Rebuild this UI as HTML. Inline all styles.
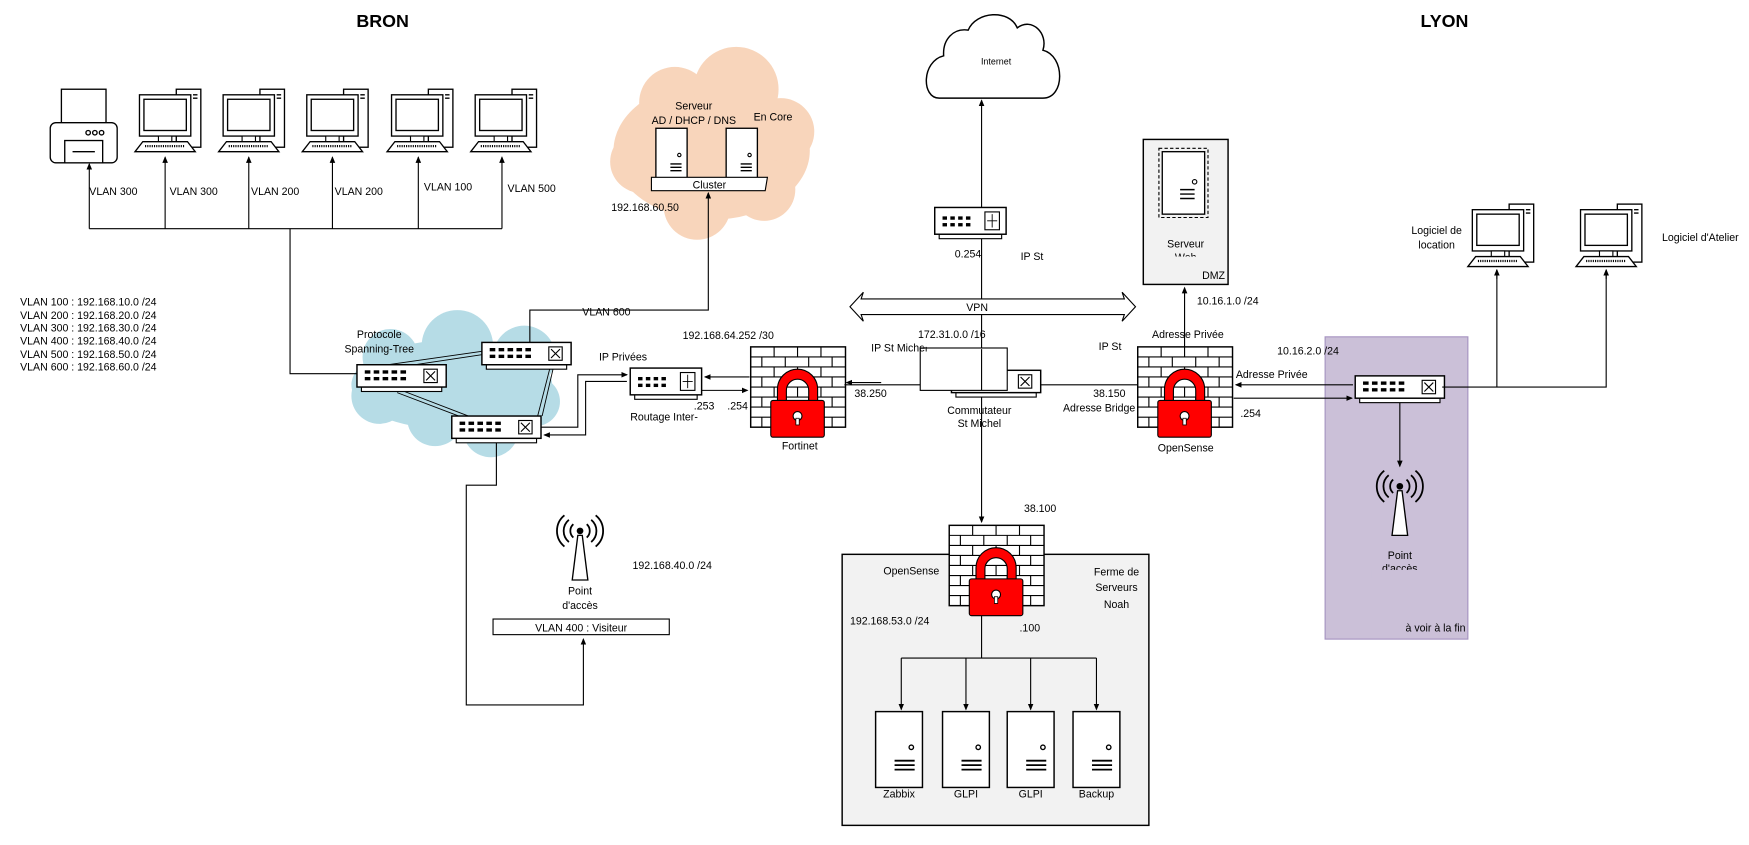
<!DOCTYPE html>
<html><head><meta charset="utf-8"><style>
html,body{margin:0;padding:0;background:#fff;}
svg{display:block;}
text{font-family:"Liberation Sans",sans-serif;font-size:9.5px;fill:#000;}
.c{text-anchor:middle;}
.t{font-size:16px;font-weight:bold;}
</style></head><body>
<svg width="1749" height="845" viewBox="0 0 1568 757.6" xmlns="http://www.w3.org/2000/svg">
<defs>
<marker id="ar" markerWidth="6" markerHeight="6" refX="5" refY="3" orient="auto" markerUnits="userSpaceOnUse"><path d="M0,0.5 L6,3 L0,5.5z" fill="#000"/></marker>
<g id="ports5">
 <g fill="#000"><rect x="0" y="0" width="5" height="3"/><rect x="8" y="0" width="5" height="3"/><rect x="16" y="0" width="5" height="3"/><rect x="24" y="0" width="5" height="3"/><rect x="32" y="0" width="5" height="3"/>
 <rect x="0" y="6" width="5" height="3"/><rect x="8" y="6" width="5" height="3"/><rect x="16" y="6" width="5" height="3"/><rect x="24" y="6" width="5" height="3"/><rect x="32" y="6" width="5" height="3"/></g>
</g>
<g id="sw">
 <rect x="4" y="20" width="72" height="4" fill="#fff" stroke="#000" stroke-width="1"/>
 <rect x="0" y="0" width="80" height="20" fill="#fff" stroke="#000" stroke-width="1.3"/>
 <use href="#ports5" x="7" y="5"/>
 <rect x="60" y="4" width="12" height="12" fill="#fff" stroke="#000"/>
 <path d="M62,6 L70,14 M70,6 L62,14" stroke="#000" stroke-width="1"/>
</g>
<g id="rt">
 <rect x="4" y="24" width="56" height="4" fill="#fff" stroke="#000"/>
 <rect x="0" y="0" width="64" height="24" fill="#fff" stroke="#000" stroke-width="1.3"/>
 <g fill="#000"><rect x="7" y="8" width="4" height="3"/><rect x="14" y="8" width="4" height="3"/><rect x="21" y="8" width="4" height="3"/><rect x="28" y="8" width="4" height="3"/>
 <rect x="7" y="14" width="4" height="3"/><rect x="14" y="14" width="4" height="3"/><rect x="21" y="14" width="4" height="3"/><rect x="28" y="14" width="4" height="3"/></g>
 <rect x="45" y="4" width="13" height="16" fill="#fff" stroke="#000"/>
 <path d="M51.5,6 V18 M47,12 H56" stroke="#000" stroke-width="0.8"/>
</g>
<g id="fw">
 <rect x="0" y="0" width="85" height="72" fill="#fff" stroke="#000" stroke-width="1.3"/>
 <g stroke="#000" stroke-width="1" fill="none">
  <path d="M0,9 H85 M0,18 H85 M0,27 H85 M0,36 H85 M0,45 H85 M0,54 H85 M0,63 H85"/>
  <path d="M21,0V9 M42,0V9 M63,0V9 M10,9V18 M31,9V18 M52,9V18 M73,9V18 M21,18V27 M42,18V27 M63,18V27 M10,27V36 M31,27V36 M52,27V36 M73,27V36 M21,36V45 M42,36V45 M63,36V45 M10,45V54 M31,45V54 M52,45V54 M73,45V54 M21,54V63 M42,54V63 M63,54V63 M10,63V72 M31,63V72 M52,63V72 M73,63V72"/>
 </g>
 <path d="M24,50 V38 A18,18 0 0 1 60,38 V50 H52 V39 A10,10 0 0 0 32,39 V50Z" fill="#f00" stroke="#000" stroke-width="1"/>
 <rect x="18" y="48" width="48" height="33" rx="2" fill="#f00" stroke="#000" stroke-width="1"/>
 <circle cx="42" cy="62" r="4" fill="#fff" stroke="#000"/>
 <rect x="40.5" y="64" width="3" height="6" fill="#fff" stroke="#000" stroke-width="0.7"/>
</g>
<g id="pc">
 <rect x="37" y="0" width="22" height="52" fill="#fff" stroke="#000" stroke-width="1.2"/>
 <path d="M52,5 H56 M52,8 H56" stroke="#000" stroke-width="1.2"/>
 <rect x="4" y="5" width="46" height="37" fill="#fff" stroke="#000" stroke-width="1.2"/>
 <rect x="8" y="9" width="38" height="28" fill="#fff" stroke="#000" stroke-width="1.2"/>
 <rect x="21" y="42" width="12" height="5" fill="#fff" stroke="#000"/>
 <path d="M0,56 L7,47 H47 L54,56Z" fill="#fff" stroke="#000" stroke-width="1.2"/>
 <path d="M9,51 H45" stroke="#000" stroke-width="2" stroke-dasharray="1,1"/>
</g>
<g id="srv">
 <rect x="0" y="0" width="28" height="46" fill="#fff" stroke="#000" stroke-width="1.2"/>
 <circle cx="21" cy="24" r="1.5" fill="none" stroke="#000"/>
 <path d="M13,32 H23 M13,35 H23 M13,38 H23" stroke="#000" stroke-width="1.2"/>
</g>
<g id="srvb">
 <rect x="0" y="0" width="42" height="68" fill="#fff" stroke="#000" stroke-width="1.3"/>
 <circle cx="32" cy="32" r="2" fill="none" stroke="#000" stroke-width="1.2"/>
 <path d="M17,44 H35 M17,48 H35 M17,52 H35" stroke="#000" stroke-width="1.6"/>
</g>
<g id="ant">
 <path d="M17,20 L12,60 H26 L21,20Z" fill="#fff" stroke="#000" stroke-width="1.2"/>
 <circle cx="19" cy="16" r="3" fill="#000"/>
 <g fill="none" stroke="#000" stroke-width="1.6">
  <path d="M13,10 A8,8 0 0 0 13,22 M25,10 A8,8 0 0 1 25,22"/>
  <path d="M9,6 A13,13 0 0 0 9,26 M29,6 A13,13 0 0 1 29,26"/>
  <path d="M5,2 A18,18 0 0 0 5,30 M33,2 A18,18 0 0 1 33,30"/>
 </g>
</g>
</defs>

<text x="343" y="24" class="t c">BRON</text>
<text x="1295" y="24" class="t c">LYON</text>

<!-- peach cloud -->
<g fill="#f8d5bb">
 <ellipse cx="638" cy="135" rx="88" ry="62"/><circle cx="605" cy="92" r="32"/><circle cx="660" cy="80" r="38"/><circle cx="700" cy="118" r="30"/>
 <circle cx="575" cy="145" r="28"/><circle cx="625" cy="185" r="30"/><circle cx="685" cy="170" r="28"/>
</g>
<!-- blue cloud -->
<g fill="#b6dce6">
 <ellipse cx="405" cy="345" rx="90" ry="40"/><circle cx="350" cy="320" r="25"/><circle cx="410" cy="310" r="32"/><circle cx="470" cy="320" r="28"/>
 <circle cx="340" cy="355" r="25"/><circle cx="440" cy="385" r="25"/><circle cx="480" cy="360" r="22"/><circle cx="390" cy="375" r="25"/>
</g>

<rect x="1188" y="302" width="128" height="271" fill="#cbc0d8" stroke="#a492c0" stroke-width="1"/>
<text x="1287" y="566" class="c">à voir à la fin</text>

<!-- DMZ -->
<rect x="1025" y="125" width="76" height="130" fill="#f2f2f2" stroke="#000" stroke-width="1.3"/>
<rect x="1039" y="133" width="44" height="62" fill="none" stroke="#000" stroke-dasharray="3,2"/>
<rect x="1042" y="136" width="38" height="56" fill="#fff" stroke="#000" stroke-width="1.2"/>
<circle cx="1071" cy="163" r="2" fill="none" stroke="#000"/>
<path d="M1058,170 H1071 M1058,174 H1071 M1058,178 H1071" stroke="#000" stroke-width="1.3"/>
<text x="1063" y="222" class="c">Serveur</text>
<text x="1063" y="234" class="c">Web</text>
<rect x="1030" y="230" width="66" height="8" fill="#f2f2f2"/>
<text x="1088" y="250" class="c">DMZ</text>

<rect x="755" y="497" width="275" height="243" fill="#f2f2f2" stroke="#000" stroke-width="1.3"/>

<path d="M842,88 C826,88 826,55 846,50 C845,35 855,25 868,27 C875,10 905,8 912,25 C925,15 940,30 935,45 C955,50 955,88 935,88Z" fill="#fff" stroke="#000" stroke-width="1.3"/>
<text x="893" y="58" class="c" style="font-size:8px">Internet</text>

<g stroke="#000" stroke-width="1" fill="none" marker-end="url(#ar)">
 <path d="M80,205 V147"/><path d="M148,205 V141"/><path d="M223,205 V141"/><path d="M298,205 V141"/><path d="M375,205 V141"/><path d="M450,205 V141"/>
</g>
<path d="M80,205 H450 M260,205 V335 H320" stroke="#000" fill="none"/>
<text x="80" y="175">VLAN 300</text><text x="152" y="175">VLAN 300</text><text x="225" y="175">VLAN 200</text><text x="300" y="175">VLAN 200</text><text x="380" y="171">VLAN 100</text><text x="455" y="172">VLAN 500</text>

<g transform="translate(45,80)" stroke="#000" stroke-width="1.2" fill="#fff">
 <rect x="10" y="0" width="40" height="30"/>
 <rect x="0" y="30" width="60" height="36" rx="5"/>
 <rect x="13" y="46" width="34" height="20"/>
 <path d="M20,56 H40"/>
 <circle cx="34" cy="39" r="2"/><circle cx="40" cy="39" r="2"/><circle cx="46" cy="39" r="2"/>
</g>
<use href="#pc" x="121" y="80"/><use href="#pc" x="196" y="80"/><use href="#pc" x="271" y="80"/><use href="#pc" x="347" y="80"/><use href="#pc" x="422" y="80"/>

<text x="18" y="274">VLAN 100 : 192.168.10.0 /24</text>
<text x="18" y="286">VLAN 200 : 192.168.20.0 /24</text>
<text x="18" y="297">VLAN 300 : 192.168.30.0 /24</text>
<text x="18" y="309">VLAN 400 : 192.168.40.0 /24</text>
<text x="18" y="321">VLAN 500 : 192.168.50.0 /24</text>
<text x="18" y="332">VLAN 600 : 192.168.60.0 /24</text>

<use href="#srv" x="588" y="115"/><use href="#srv" x="651" y="115"/>
<path d="M584,159 H688 L686,171 H584Z" fill="#fff" stroke="#000"/>
<text x="636" y="169" class="c">Cluster</text>
<text x="622" y="98" class="c">Serveur</text>
<text x="622" y="111" class="c">AD / DHCP / DNS</text>
<text x="693" y="108" class="c">En Core</text>
<text x="548" y="189">192.168.60.50</text>
<path d="M475,307 V278 H635 V173" stroke="#000" fill="none" marker-end="url(#ar)"/>
<text x="522" y="283">VLAN 600</text>
<text x="340" y="303" class="c">Protocole</text>
<text x="340" y="316" class="c">Spanning-Tree</text>

<g stroke="#000" stroke-width="0.8" fill="none">
 <path d="M348,327 L432,315 M352,330 L432,318"/>
 <path d="M360,350 L420,373 M356,352 L414,374"/>
 <path d="M493,330 L482,373 M496,330 L486,373"/>
</g>
<use href="#sw" x="320" y="327"/><use href="#sw" x="432" y="307"/><use href="#sw" x="405" y="373"/>

<path d="M485,383 H518 V336 H562" stroke="#000" fill="none" marker-end="url(#ar)"/>
<path d="M562,342 H525 V390 H488" stroke="#000" fill="none" marker-end="url(#ar)"/>
<use href="#rt" x="565" y="330"/>
<text x="537" y="323">IP Privées</text>
<text x="565" y="377">Routage Inter-</text>
<text x="622" y="367">.253</text><text x="652" y="367">.254</text>
<text x="612" y="304">192.168.64.252 /30</text>
<path d="M672,338 H632" stroke="#000" marker-end="url(#ar)"/>
<path d="M629,350 H670" stroke="#000" marker-end="url(#ar)"/>

<use href="#fw" x="673" y="311"/>
<text x="717" y="403" class="c">Fortinet</text>
<text x="766" y="356">38.250</text>
<path d="M790,343 H759" stroke="#000" marker-end="url(#ar)"/>

<path d="M445,397 V435 H418 V632 H523 V573" stroke="#000" fill="none" marker-end="url(#ar)"/>
<use href="#ant" x="501" y="460"/>
<text x="520" y="533" class="c">Point</text>
<text x="520" y="546" class="c">d'accès</text>
<rect x="442" y="555" width="158" height="14" fill="#fff" stroke="#000"/>
<text x="521" y="566" class="c">VLAN 400 : Visiteur</text>
<text x="567" y="510">192.168.40.0 /24</text>

<path d="M880,188 V90" stroke="#000" marker-end="url(#ar)"/>
<path d="M880,213 V468" stroke="#000" marker-end="url(#ar)"/>
<use href="#rt" x="838" y="186"/>
<text x="856" y="231">0.254</text><text x="915" y="233">IP St</text>

<path d="M772,268 H1008 L1006,262 L1018,275 L1006,288 L1008,282 H772 L774,288 L762,275 L774,262Z" fill="#fff" stroke="#000"/>
<text x="876" y="279" class="c">VPN</text>

<path d="M757,345 H1033" stroke="#000" marker-end="url(#ar)"/>
<use href="#sw" x="853" y="332"/>
<rect x="825" y="312" width="78" height="38" fill="#fff" stroke="#000"/>
<text x="823" y="303">172.31.0.0 /16</text>
<text x="781" y="315">IP St Michel</text>
<rect x="828" y="308" width="30" height="3" fill="#fff"/>
<text x="878" y="371" class="c">Commutateur</text>
<text x="878" y="383" class="c">St Michel</text>
<path d="M880,313 V350" stroke="#000"/>

<use href="#fw" x="1020" y="311"/>
<path d="M1062,311 V258" stroke="#000" marker-end="url(#ar)"/>
<text x="1073" y="273">10.16.1.0 /24</text>
<text x="1065" y="303" class="c">Adresse Privée</text>
<text x="985" y="314">IP St</text>
<text x="980" y="356">38.150</text>
<text x="953" y="369">Adresse Bridge</text>
<text x="1063" y="405" class="c">OpenSense</text>
<text x="1145" y="318">10.16.2.0 /24</text>
<text x="1108" y="339">Adresse Privée</text>
<text x="1112" y="374">.254</text>
<path d="M1213,345 H1108" stroke="#000" marker-end="url(#ar)"/>
<path d="M1106,357 H1212" stroke="#000" marker-end="url(#ar)"/>
<use href="#sw" x="1215" y="337"/>
<path d="M1293,347 H1440 V242 M1342,347 V242" stroke="#000" fill="none"/>
<path d="M1342,250 V242" stroke="#000" marker-end="url(#ar)"/>
<path d="M1440,250 V242" stroke="#000" marker-end="url(#ar)"/>
<use href="#pc" x="1316" y="183"/><use href="#pc" x="1413" y="183"/>
<text x="1288" y="210" class="c">Logiciel de</text>
<text x="1288" y="223" class="c">location</text>
<text x="1490" y="216">Logiciel d'Atelier</text>
<path d="M1255,361 V418" stroke="#000" marker-end="url(#ar)"/>
<use href="#ant" x="1236" y="420"/>
<text x="1255" y="501" class="c">Point</text>
<text x="1255" y="513" class="c">d'accès</text>
<rect x="1230" y="511" width="50" height="8" fill="#cbc0d8"/>

<text x="918" y="459">38.100</text>
<use href="#fw" x="851" y="471"/>
<text x="817" y="515" class="c">OpenSense</text>
<text x="1001" y="516" class="c">Ferme de</text>
<text x="1001" y="530" class="c">Serveurs</text>
<text x="1001" y="545" class="c">Noah</text>
<text x="762" y="560">192.168.53.0 /24</text>
<text x="914" y="566">.100</text>
<path d="M880,552 V590 M808,590 H983" stroke="#000" fill="none"/>
<g stroke="#000" marker-end="url(#ar)"><path d="M808,590 V636"/><path d="M866,590 V636"/><path d="M924,590 V636"/><path d="M983,590 V636"/></g>
<use href="#srvb" x="785" y="638"/><use href="#srvb" x="845" y="638"/><use href="#srvb" x="903" y="638"/><use href="#srvb" x="962" y="638"/>
<text x="806" y="715" class="c">Zabbix</text><text x="866" y="715" class="c">GLPI</text><text x="924" y="715" class="c">GLPI</text><text x="983" y="715" class="c">Backup</text>
</svg>
</body></html>
